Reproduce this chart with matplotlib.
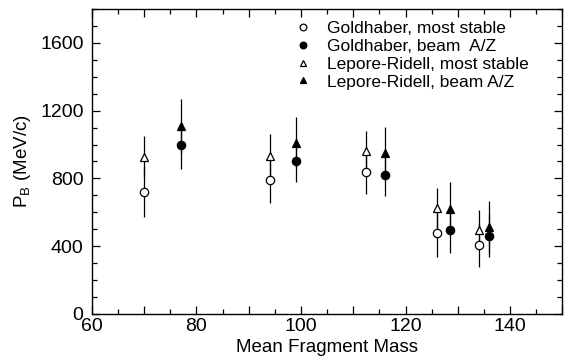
import matplotlib
matplotlib.use("Agg")
import matplotlib.pyplot as plt
from matplotlib.ticker import MultipleLocator, FuncFormatter

# mean fragment mass for each group (most stable / beam A/Z)
mass_stable = [70, 94, 112.5, 126, 134]
mass_beam = [77, 99, 116, 128.5, 136]

# P_B in MeV/c
gold_stable = [720, 790, 835, 478, 405]
gold_stable_err = [145, 135, 125, 140, 130]
gold_beam = [995, 905, 822, 495, 462]
gold_beam_err = [138, 128, 128, 134, 125]
lr_stable = [928, 935, 960, 625, 498]
lr_stable_err = [120, 125, 120, 120, 118]
lr_beam = [1110, 1010, 950, 622, 515]
lr_beam_err = [158, 150, 156, 155, 154]

labels = ["Goldhaber, most stable", "Goldhaber, beam  A/Z",
          "Lepore-Ridell, most stable", "Lepore-Ridell, beam A/Z"]

plt.rcParams['font.family'] = ['Liberation Sans', 'DejaVu Sans']
plt.rcParams['mathtext.fontset'] = 'custom'
plt.rcParams['mathtext.rm'] = 'Liberation Sans'

fig = plt.figure(figsize=(5.64, 3.58), dpi=100)
ax = fig.add_axes([0.163, 0.123, 0.834, 0.852])

common = dict(ls='none', ecolor='black', elinewidth=0.9, capsize=0,
              markersize=6, markeredgewidth=0.9, markeredgecolor='black')

ax.errorbar(mass_stable, gold_stable, yerr=gold_stable_err, fmt='o',
            markerfacecolor='white', label=labels[0], zorder=3, **common)
ax.errorbar(mass_beam, gold_beam, yerr=gold_beam_err, fmt='o',
            markerfacecolor='black', label=labels[1], zorder=3, **common)
ax.errorbar(mass_stable, lr_stable, yerr=lr_stable_err, fmt='^',
            markerfacecolor='white', label=labels[2], zorder=3, **common)
ax.errorbar(mass_beam, lr_beam, yerr=lr_beam_err, fmt='^',
            markerfacecolor='black', label=labels[3], zorder=3, **common)

ax.set_xlim(60, 150)
ax.set_ylim(0, 1800)

ax.xaxis.set_major_locator(MultipleLocator(10))
ax.xaxis.set_minor_locator(MultipleLocator(5))
ax.xaxis.set_major_formatter(FuncFormatter(lambda v, p: f"{int(v)}" if int(v) % 20 == 0 else ""))
ax.yaxis.set_major_locator(MultipleLocator(400))
ax.yaxis.set_minor_locator(MultipleLocator(100))

ax.tick_params(which='both', direction='in', top=True, right=True, labelsize=14, width=0.9)
ax.tick_params(which='major', length=6)
ax.tick_params(which='minor', length=3.5)
ax.tick_params(axis='y', pad=6)
ax.tick_params(axis='x', pad=3)
for s in ax.spines.values():
    s.set_linewidth(1.0)

ax.set_xlabel("Mean Fragment Mass", fontsize=13.5, labelpad=3)
ax.set_ylabel(r"P$_\mathrm{B}$ (MeV/c)", fontsize=13.5, labelpad=5)

handles, lbls = ax.get_legend_handles_labels()
handles = [h[0] for h in handles]
leg = ax.legend(handles, lbls, loc='upper left', bbox_to_anchor=(0.43, 0.96),
                frameon=False, fontsize=12.5, handlelength=1.0, handletextpad=0.9,
                borderpad=0, borderaxespad=0, labelspacing=0.15, markerscale=0.8)

fig.savefig("out.png", dpi=100)
